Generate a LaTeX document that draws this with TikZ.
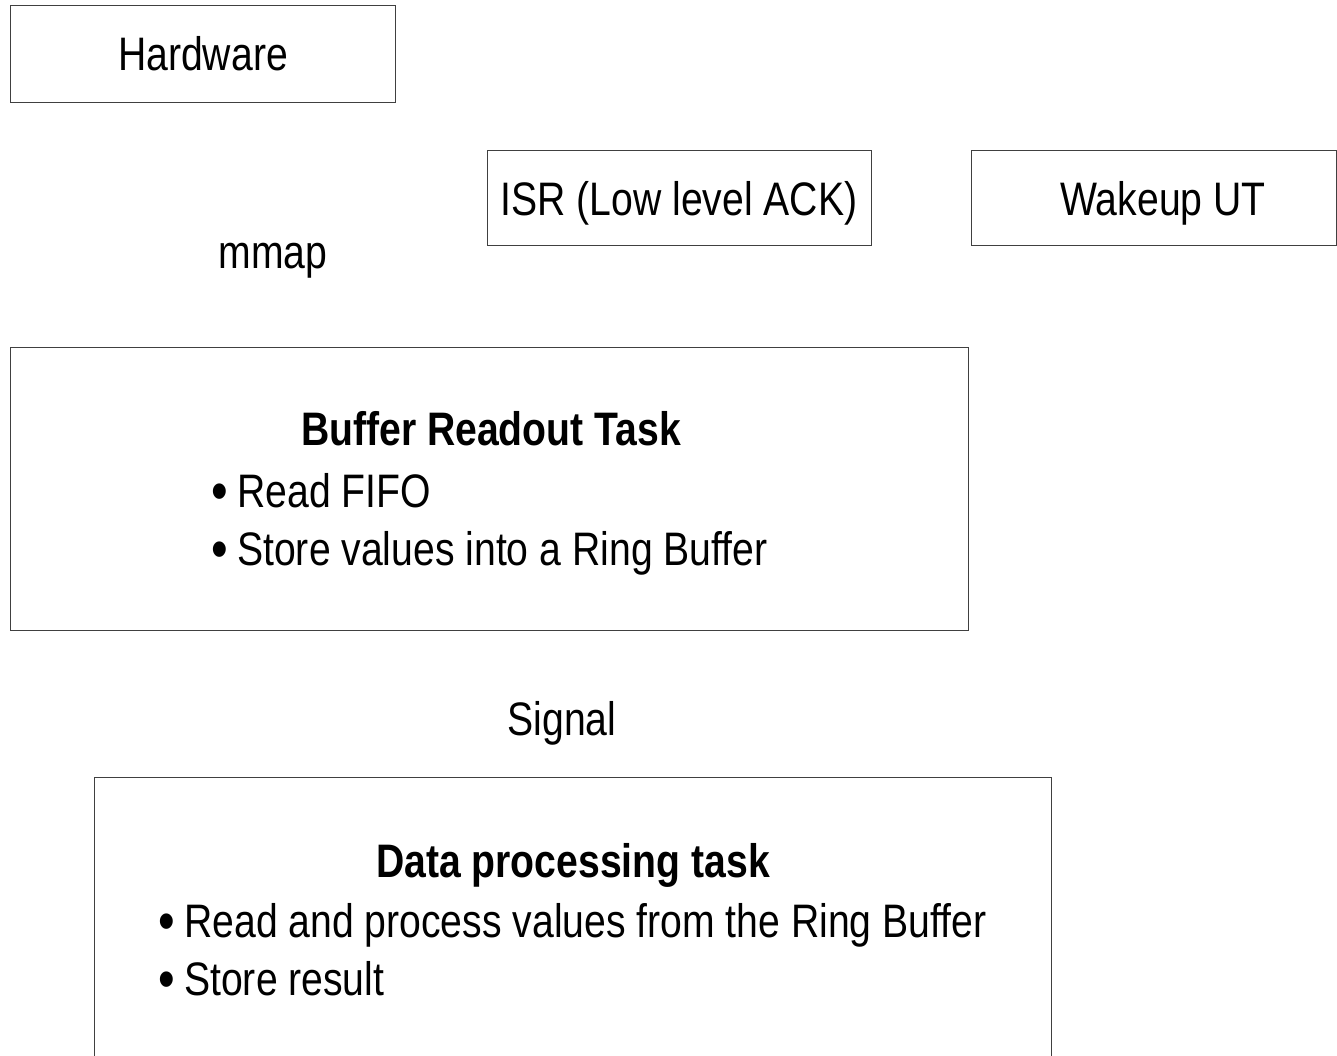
\documentclass[tikz,border=0pt]{standalone}
\usepackage{fontspec}
\setmainfont{Liberation Sans}[FakeStretch=0.833]
% a slightly larger bullet, set in a box of fixed width before each item
\newcommand{\itembullet}{\makebox[26pt][l]{\raisebox{-3pt}{\fontsize{57}{57}\selectfont\textbullet}}}
\begin{document}
\begin{tikzpicture}[x=1pt,y=-1pt,
  box/.style={draw=black!75,line width=1pt},
  lbl/.style={inner sep=0pt,anchor=base,font=\fontsize{47}{56}\selectfont},
  item/.style={inner sep=0pt,anchor=base west,font=\fontsize{47}{56}\selectfont},
  head/.style={inner sep=0pt,anchor=base,font=\fontsize{47}{56}\selectfont\bfseries}]
\useasboundingbox (0,0) rectangle (1337,1055);
\fill[white] (0,0) rectangle (1337,1055);

% top row
\draw[box] (10,5) rectangle (395,102);
\node[lbl] (hw) at (203,70) {Hardware};

\draw[box] (487,150) rectangle (871,245);
\node[lbl] (isr) at (679,215) {ISR (Low level ACK)};

\draw[box] (971,150) rectangle (1336,245);
\node[lbl] (wake) at (1163,215) {Wakeup UT};

\node[lbl] (mmap) at (273,268) {mmap};

% buffer readout task
\draw[box] (10,347) rectangle (968,630);
\node[head] (brt) at (491,445) {Buffer Readout Task};
\node[item] (brt1) at (211,507) {\itembullet Read FIFO};
\node[item] (brt2) at (211,565) {\itembullet Store values into a Ring Buffer};

\node[lbl] (sig) at (562,735) {Signal};

% data processing task
\draw[box] (94,777) rectangle (1051,1070);
\node[head] (dpt) at (573,877) {Data processing task};
\node[item] (dpt1) at (158,937) {\itembullet Read and process values from the Ring Buffer};
\node[item] (dpt2) at (158,995) {\itembullet Store result};
\end{tikzpicture}
\end{document}
